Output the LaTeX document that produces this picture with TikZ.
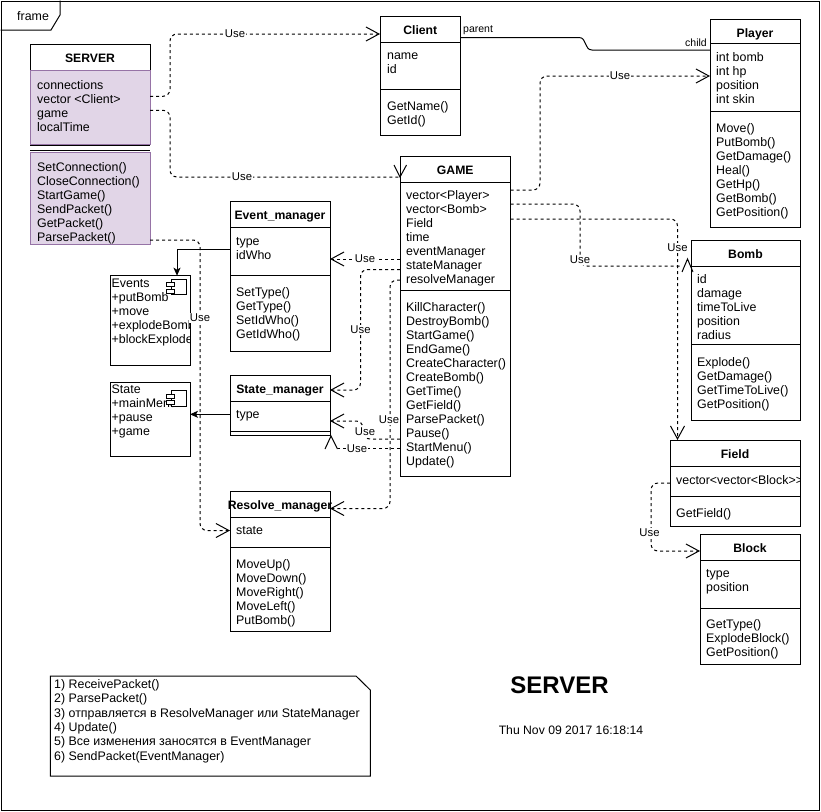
\documentclass[tikz,border=0pt]{standalone}
\usepackage{fontspec}
\setmainfont{Liberation Sans}
\usetikzlibrary{arrows.meta,fit}
\definecolor{srvfill}{HTML}{E1D5E7}
\definecolor{srvline}{HTML}{9673A6}
\tikzset{
  box/.style={draw, line width=1pt, fill=white, inner sep=0pt, outer sep=0pt},
  sepline/.style={draw, line width=1pt},
  dep/.style={draw, line width=1pt, dash pattern=on 3pt off 3pt, rounded corners=7pt},
  barb/.style={-{Straight Barb[length=13pt,width=14pt]}},
  head/.style={draw, line width=1pt, solid},
  solidc/.style={draw, line width=1pt},
  filled/.style={-{Stealth[length=8pt,width=7pt,inset=2pt]}},
  lbl/.style={fill=white, inner sep=1pt, font=\fontsize{11.3}{13}\selectfont},
  txt/.style={anchor=base west, inner sep=0pt, font=\fontsize{12.4}{14}\selectfont},
  ttl/.style={anchor=base, inner sep=0pt, font=\bfseries\fontsize{12.2}{14}\selectfont},
  small/.style={inner sep=0pt, font=\fontsize{10.5}{12}\selectfont},
}
\newcommand\txtlines[5]{% prefix, x, first baseline, step, list
  \foreach \t [count=\i] in {#5} {\node[txt] (#1\i) at (#2,{#3+(\i-1)*#4}) {\t};}}
\newcommand\cliplines[6]{% prefix, x, first baseline, step, box width, list
  \foreach \t [count=\i] in {#6} {\node[txt] (#1\i) at (#2,{#3+(\i-1)*#4}) {\makebox[#5][l]{\t}};}}
\newcommand\cls[8]{% name, x1, x2, top, title bottom, separator, bottom, title
  \node[box, fit={(#2,#4) (#3,#7)}] (#1) {};
  \draw[sepline] (#2,#5) -- (#3,#5);
  \draw[sepline] (#2,#6) -- (#3,#6);
  \node[ttl] (#1-t) at ({(#2+#3)/2},{#4+18}) {#8};}
\begin{document}
\begin{tikzpicture}[x=1pt, y=-1pt]
\useasboundingbox (0,0) rectangle (821,811);
\fill[white] (0,0) rectangle (821,811);
% frame
\draw[line width=1pt] (1,1) rectangle (819,810);
\draw[line width=1pt] (0.5,30) -- (51,30) -- (60,15) -- (60,0.5);
\node[txt] (framelbl) at (17,20) {frame};

% SERVER
\node[box, fit={(30,44) (150,244)}, draw=none, fill=none] (server) {};
\draw[line width=1pt] (30,44) rectangle (150,70);
\draw[line width=1pt, draw=srvline, fill=srvfill] (30,70) rectangle (150,144);
\draw[sepline] (30,145) -- (150,145);
\draw[sepline] (30,150) -- (150,150);
\draw[line width=1pt, draw=srvline, fill=srvfill] (30,152.5) rectangle (150,244);
\node[ttl] (server-t) at (90,62.5) {SERVER};
\txtlines{srvA}{37}{89}{14}{connections,vector <Client>,game,localTime}
\txtlines{srvM}{37}{171}{14}{SetConnection(),CloseConnection(),StartGame(),SendPacket(),GetPacket(),ParsePacket()}

% Client
\cls{client}{380}{460.5}{16}{42}{89}{135}{Client}
\txtlines{cliA}{387}{59.5}{14}{name,id}
\txtlines{cliM}{387}{110.7}{14}{GetName(),GetId()}

% Player
\cls{player}{710}{800}{19}{43.5}{111.3}{227.3}{Player}
\txtlines{plA}{716}{61.5}{14}{int bomb,int hp,position,int skin}
\txtlines{plM}{716}{132.3}{14}{Move(),PutBomb(),GetDamage(),Heal(),GetHp(),GetBomb(),GetPosition()}

% GAME
\cls{game}{400}{510.5}{156}{182.3}{290}{476.5}{GAME}
\txtlines{gmA}{406}{199.5}{14}{vector<Player>,vector<Bomb>,Field,time,eventManager,stateManager,resolveManager}
\txtlines{gmM}{406}{311.7}{14}{KillCharacter(),DestroyBomb(),StartGame(),EndGame(),CreateCharacter(),CreateBomb(),GetTime(),GetField(),ParsePacket(),Pause(),StartMenu(),Update()}

% Event_manager
\cls{evm}{230}{330}{201.3}{227.3}{275.3}{351}{Event\_manager}
\txtlines{evA}{236}{245}{14}{type,idWho}
\txtlines{evM}{236}{296.7}{14}{SetType(),GetType(),SetIdWho(),GetIdWho()}

% State_manager
\cls{stm}{230}{330}{375.7}{401.3}{431}{435}{State\_manager}
\txtlines{stA}{236}{418.7}{14}{type}

% Resolve_manager
\cls{rsm}{230}{330}{491}{517.3}{547.3}{631}{Resolve\_manager}
\txtlines{rsA}{236}{534.3}{14}{state}
\txtlines{rsM}{236}{568.3}{14}{MoveUp(),MoveDown(),MoveRight(),MoveLeft(),PutBomb()}

% Bomb
\cls{bomb}{691}{800}{240.3}{266}{344.3}{420.3}{Bomb}
\txtlines{bmA}{697}{283.3}{14}{id,damage,timeToLive,position,radius}
\txtlines{bmM}{697}{366}{14}{Explode(),GetDamage(),GetTimeToLive(),GetPosition()}

% Field
\cls{field}{670}{800}{440}{466}{496}{526.3}{Field}
\begin{scope}
\clip (670,466) rectangle (799.5,496);
\cliplines{fdA}{676}{484.3}{14}{123pt}{vector<vector<Block>{}>}
\end{scope}
\txtlines{fdM}{676}{517.3}{14}{GetField()}

% Block
\cls{block}{700}{800}{534.3}{560.3}{608.3}{664.3}{Block}
\txtlines{blA}{706}{577.7}{14}{type,position}
\txtlines{blM}{706}{628.3}{14}{GetType(),ExplodeBlock(),GetPosition()}

% Events component
\node[box, fit={(110.7,275.7) (190,365.3)}] (events) {};
\begin{scope}
\clip (110.7,275.7) rectangle (190,365.3);
\cliplines{ev}{111.5}{287}{14}{78pt}{Events,+putBomb,+move,+explodeBomb,+blockExplode}
\end{scope}
\draw[line width=1pt, fill=white] (171,279) rectangle (186.7,294.3);
\draw[line width=1pt, fill=white] (166.3,282.7) rectangle (174.5,286.7);
\draw[line width=1pt, fill=white] (166.3,289.3) rectangle (174.5,293.3);

% State component
\node[box, fit={(110.7,382.7) (190,456.7)}] (state) {};
\begin{scope}
\clip (110.7,382.7) rectangle (190,456.7);
\cliplines{st}{111.5}{393.3}{14}{78pt}{State,+mainMenu,+pause,+game}
\end{scope}
\draw[line width=1pt, fill=white] (171,390) rectangle (186.7,406);
\draw[line width=1pt, fill=white] (166.3,394) rectangle (174.5,398);
\draw[line width=1pt, fill=white] (166.3,400.3) rectangle (174.5,404.3);

% Note
\draw[line width=1pt] (50.3,676) -- (356,676) -- (370.3,690) -- (370.3,776) -- (50.3,776) -- cycle;
\txtlines{nt}{54}{688.3}{14.4}{1) ReceivePacket(),2) ParsePacket(),3) отправляется в ResolveManager или StateManager,4) Update(),5) Все изменения заносятся в EventManager,6) SendPacket(EventManager)}

% big title and date
\node[anchor=base, inner sep=0pt, font=\bfseries\fontsize{24}{28}\selectfont] (bigtitle) at (559.5,693) {SERVER};
\node[anchor=base, inner sep=0pt, font=\fontsize{12.2}{14}\selectfont] (date) at (571,734.3) {Thu Nov 09 2017 16:18:14};

% ---------- connectors ----------
% SERVER -> Client
\draw[dep, barb] (server.east |- 0,96.3) -- (170,96.3) -- (170,34) -- (client.west |- 0,34);
\node[lbl] (u1) at (235,34) {Use};
% SERVER -> GAME
\draw[dep] (server.east |- 0,110.3) -- (170,110.3) -- (170,177) -- (game.west |- 0,177);
\draw[head] (394,165) -- (game.west |- 0,177) -- (406.5,165);
\node[lbl] (u2) at (242,177) {Use};
% Client -> Player (parent/child)
\draw[solidc] (client.east |- 0,37.5) -- (579,37.5) .. controls (587,37.5) and (584,50) .. (592,50) -- (player.west |- 0,50);
\node[small, anchor=base west] (par) at (463,32.8) {parent};
\node[small, anchor=base east] (chi) at (707,46.7) {child};
% GAME -> Player
\draw[dep, barb] (game.east |- 0,190) -- (540,190) -- (540,76) -- (player.west |- 0,76);
\node[lbl] (u3) at (620,76) {Use};
% GAME -> Bomb
\draw[dep] (game.east |- 0,204) -- (580,204) -- (580,266) -- (681,266);
\draw[head] (682,272) -- (687.5,259) -- (693,272);
\node[lbl] (u4) at (580,260) {Use};
% GAME -> Field
\draw[dep, barb] (game.east |- 0,219) -- (677.5,219) -- (677.5,0 |- field.north);
\node[lbl] (u5) at (677.5,248) {Use};
% GAME -> Event_manager
\draw[dep, barb] (game.west |- 0,259) -- (evm.east |- 0,259);
\node[lbl] (u6) at (365,259) {Use};
% GAME -> State_manager (stateManager)
\draw[dep, barb] (game.west |- 0,269.5) -- (360.5,269.5) -- (360.5,390) -- (stm.east |- 0,390);
\node[lbl] (u7) at (360.5,330) {Use};
% GAME -> Resolve_manager
\draw[dep, barb] (game.west |- 0,280) -- (390,280) -- (390,508.5) -- (rsm.east |- 0,508.5);
\node[lbl] (u8) at (389,420) {Use};
% GAME (Pause) -> State_manager
\draw[dep, barb] (game.west |- 0,439) -- (363,439) -- (363,421) -- (stm.east |- 0,421);
\node[lbl] (u9) at (365,432) {Use};
% GAME (StartMenu) -> State_manager bottom
\draw[dep] (game.west |- 0,448.5) -- (338,448.5);
\draw[head] (325,449) -- (331,436) -- (337.5,449);
\node[lbl] (u10) at (357,448.5) {Use};
% SERVER -> Resolve_manager
\draw[dep, barb] (server.east |- 0,240) -- (200,240) -- (200,530.5) -- (rsm.west |- 0,530.5);
\node[lbl] (u11) at (200,318) {Use};
% Event_manager -> Events
\draw[solidc, filled] (evm.west |- 0,249.3) -- (177,249.3) -- (177,0 |- events.north);
% State_manager -> State
\draw[solidc, filled] (stm.west |- 0,414.3) -- (state.east |- 0,414.3);
% Field -> Block
\draw[dep, barb] (field.west |- 0,483) -- (651,483) -- (651,551) -- (block.west |- 0,551);
\node[lbl] (u12) at (649.5,533) {Use};
\end{tikzpicture}
\end{document}
